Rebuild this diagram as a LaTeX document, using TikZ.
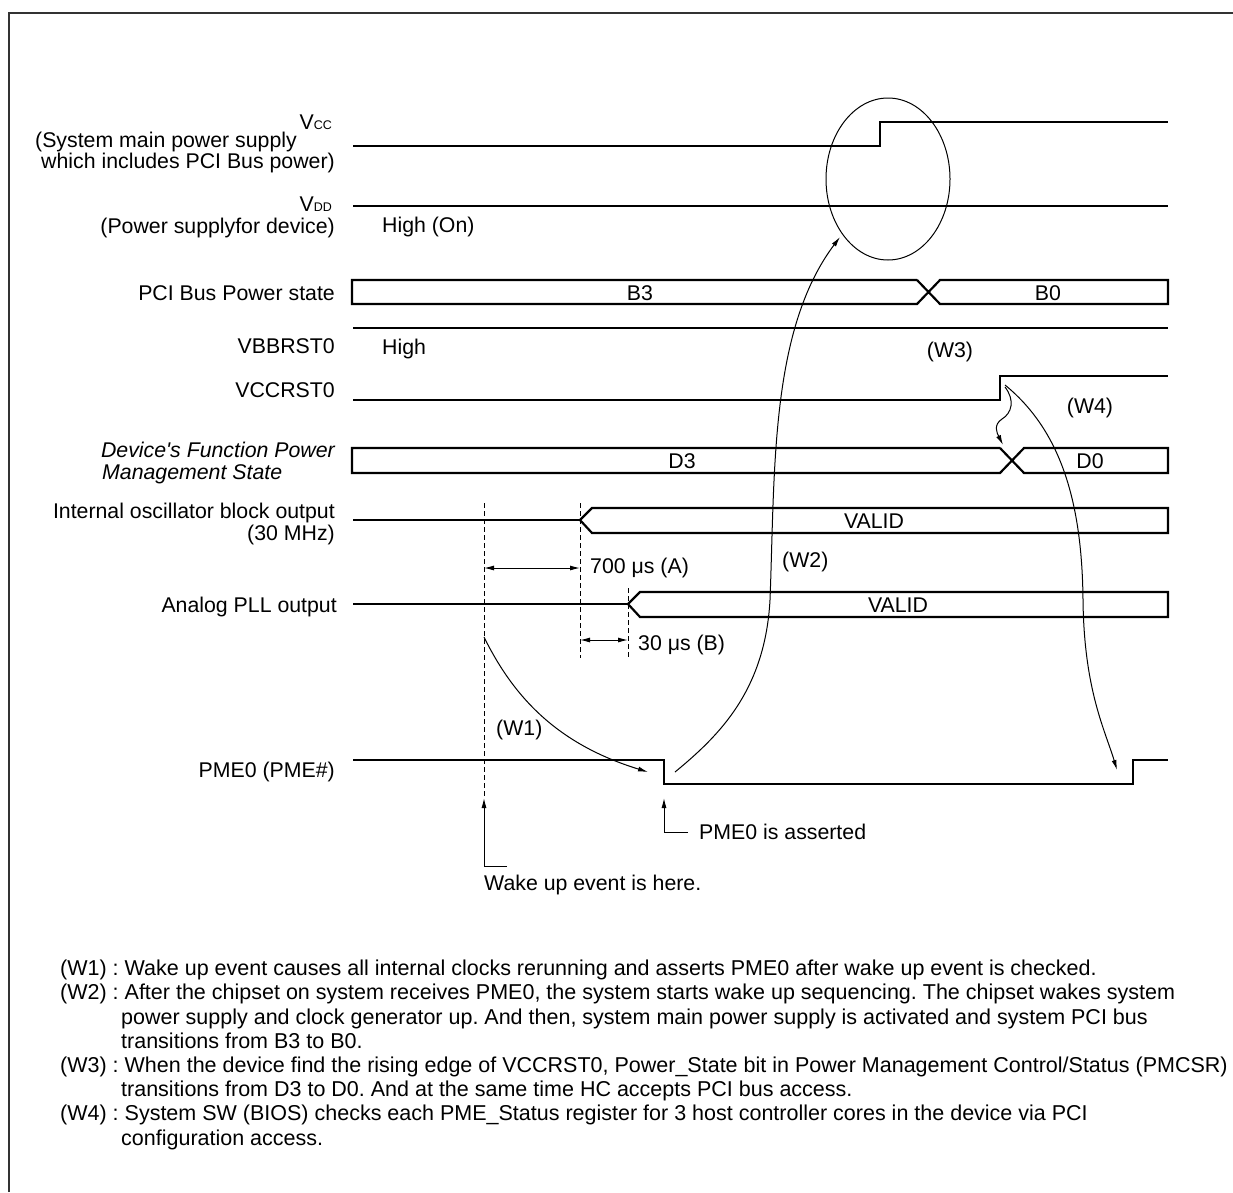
\documentclass[tikz,border=0pt]{standalone}
\usepackage{fontspec}
\setmainfont{Liberation Sans}
\usetikzlibrary{arrows.meta}
\frenchspacing
\begin{document}
\begin{tikzpicture}[x=1pt,y=-1pt,
  sig/.style={line width=2.2pt, line join=miter},
  thinline/.style={line width=1pt},
  lbl/.style={inner sep=0pt, font=\fontsize{21.3}{25}\selectfont},
  note/.style={inner sep=0pt, anchor=base west, font=\fontsize{21.5}{24}\selectfont},
  tiparrow/.style={line width=1pt, -{Latex[length=10pt,width=5pt]}},
  dimarrow/.style={line width=1pt, {Latex[length=10pt,width=5pt]}-{Latex[length=10pt,width=5pt]}},
  dsh/.style={line width=1pt, dash pattern=on 5pt off 3pt}]
\useasboundingbox (0,0) rectangle (1233,1192);
\draw[line width=2pt, black!80] (9,1192) -- (9,13) -- (1233,13);

% ---- signal labels ----
\node[lbl, anchor=base east] (lvcc) at (332,129) {V{\fontsize{12.5}{12}\selectfont CC}};
\node[lbl, anchor=base east] (lvcc1) at (297,147) {(System main power supply};
\node[lbl, anchor=base east] (lvcc2) at (335,168) {which includes PCI Bus power)};
\node[lbl, anchor=base east] (lvdd) at (332,211) {V{\fontsize{12.5}{12}\selectfont DD}};
\node[lbl, anchor=base east] (lvdd1) at (335,233) {(Power supplyfor device)};
\node[lbl, anchor=base east] (lpci) at (335,300) {PCI Bus Power state};
\node[lbl, anchor=base east] (lvbb) at (335,353) {VBBRST0};
\node[lbl, anchor=base east] (lvccr) at (335,397) {VCCRST0};
\node[lbl, anchor=base east, font=\fontsize{21.3}{25}\selectfont\itshape] (ldev1) at (335,457) {Device\textquotesingle s Function Power};
\node[lbl, anchor=base west, font=\fontsize{21.3}{25}\selectfont\itshape] (ldev2) at (102,479) {Management State};
\node[lbl, anchor=base east] (losc1) at (335,518) {Internal oscillator block output};
\node[lbl, anchor=base east] (losc2) at (335,540) {(30 MHz)};
\node[lbl, anchor=base east] (lpll) at (337,612) {Analog PLL output};
\node[lbl, anchor=base east] (lpme) at (335,777) {PME0 (PME\#)};

% ---- waveforms ----
% Vcc
\draw[sig] (353,146) -- (880,146) -- (880,122) -- (1168,122);
% Vdd
\draw[sig] (353,206) -- (1168,206);
\node[lbl, anchor=base west] (hion) at (382,232) {High (On)};
% PCI bus power state
\draw[sig] (917,280) -- (352,280) -- (352,304) -- (917,304) -- (940,280) -- (1168,280) -- (1168,304) -- (940,304) -- (917,280);
\node[lbl, anchor=base] (b3) at (640,300) {B3};
\node[lbl, anchor=base] (b0) at (1048,300) {B0};
% VBBRST0
\draw[sig] (353,328) -- (1168,328);
\node[lbl, anchor=base west] (hi2) at (382,354) {High};
\node[lbl, anchor=base] (w3) at (950,357) {(W3)};
% VCCRST0
\draw[sig] (353,400) -- (1000,400) -- (1000,376) -- (1168,376);
\node[lbl, anchor=base] (w4) at (1090,413) {(W4)};
% Device state
\draw[sig] (1000,448) -- (352,448) -- (352,473) -- (1000,473) -- (1024,448) -- (1168,448) -- (1168,473) -- (1024,473) -- (1000,448);
\node[lbl, anchor=base] (d3) at (682,468) {D3};
\node[lbl, anchor=base] (d0) at (1090,468) {D0};
% Oscillator
\draw[sig] (353,520) -- (580,520);
\draw[sig] (580,520) -- (592,508) -- (1168,508) -- (1168,533) -- (592,533) -- cycle;
\node[lbl, anchor=base] (valid1) at (874,528) {VALID};
% PLL
\draw[sig] (353,604) -- (628,604);
\draw[sig] (628,604) -- (640,592) -- (1168,592) -- (1168,617) -- (640,617) -- cycle;
\node[lbl, anchor=base] (valid2) at (898,612) {VALID};
% PME0
\draw[sig] (353,760) -- (664,760) -- (664,784) -- (1133,784) -- (1133,760) -- (1168,760);

% ---- dashed markers and dimensions ----
\coordinate (da0) at (484,503);
\coordinate (da1) at (484,798);
\coordinate (db0) at (580,503);
\coordinate (db1) at (580,658);
\coordinate (dc0) at (628,588);
\coordinate (dc1) at (628,658);
\draw[dsh] (da0) -- (da1);
\draw[dsh] (db0) -- (db1);
\draw[dsh] (dc0) -- (dc1);
\draw[dimarrow] (484,568) -- (580,568);
\draw[dimarrow] (580,640) -- (628,640);
\node[lbl, anchor=base west] (t700) at (590,573) {700 μs (A)};
\node[lbl, anchor=base west] (t30) at (638,650) {30 μs (B)};
\node[lbl, anchor=base west] (w2) at (782,567) {(W2)};
\node[lbl, anchor=base west] (w1) at (496,735) {(W1)};

% ---- ellipse and causal arrows ----
\draw[thinline] (888,179) ellipse [x radius=62, y radius=81];
\coordinate (w1s) at (484,637);
\coordinate (w1e) at (648,772);
\draw[tiparrow] (w1s) .. controls (515,700) and (560,745) .. (w1e);
\coordinate (w2s) at (675,772);
\coordinate (w2m) at (770,600);
\coordinate (w2e) at (840,237);
\draw[tiparrow] (w2s) .. controls (720,735) and (765,690) .. (w2m) .. controls (775,470) and (770,330) .. (w2e);
\coordinate (w4s) at (1005,385);
\coordinate (w4m) at (1083,600);
\coordinate (w4e) at (1117,770);
\draw[tiparrow] (w4s) .. controls (1060,430) and (1082,500) .. (w4m) .. controls (1084,690) and (1105,730) .. (w4e);
\coordinate (w3s) at (1005,387);
\coordinate (w3m) at (1002,419);
\coordinate (w3e) at (1003,445);
\draw[tiparrow] (w3s) .. controls (1015,400) and (1012,413) .. (w3m) .. controls (993,425) and (997,433) .. (w3e);

% ---- event pointers ----
\coordinate (wk0) at (507,866);
\coordinate (wk1) at (484,866);
\draw[tiparrow] (wk0) -- (wk1) -- (da1);
\coordinate (pa0) at (688,832);
\coordinate (pa1) at (664,832);
\coordinate (pa2) at (664,798);
\draw[tiparrow] (pa0) -- (pa1) -- (pa2);
\node[lbl, anchor=base west] (asserted) at (699,839) {PME0 is asserted};
\node[lbl, anchor=base west] (wake) at (484,890) {Wake up event is here.};

% ---- notes ----
\node[note] (n1) at (60,975) {(W1) : Wake up event causes all internal clocks rerunning and asserts PME0 after wake up event is checked.};
\node[note] (n2) at (60,999) {(W2) : After the chipset on system receives PME0, the system starts wake up sequencing. The chipset wakes system};
\node[note] (n2b) at (121,1024) {power supply and clock generator up. And then, system main power supply is activated and system PCI bus};
\node[note] (n2c) at (121,1048) {transitions from B3 to B0.};
\node[note] (n3) at (60,1072) {(W3) : When the device find the rising edge of VCCRST0, Power\_State bit in Power Management Control/Status (PMCSR)};
\node[note] (n3b) at (121,1096) {transitions from D3 to D0. And at the same time HC accepts PCI bus access.};
\node[note] (n4) at (60,1120) {(W4) : System SW (BIOS) checks each PME\_Status register for 3 host controller cores in the device via PCI};
\node[note] (n4b) at (121,1145) {configuration access.};
\end{tikzpicture}
\end{document}
